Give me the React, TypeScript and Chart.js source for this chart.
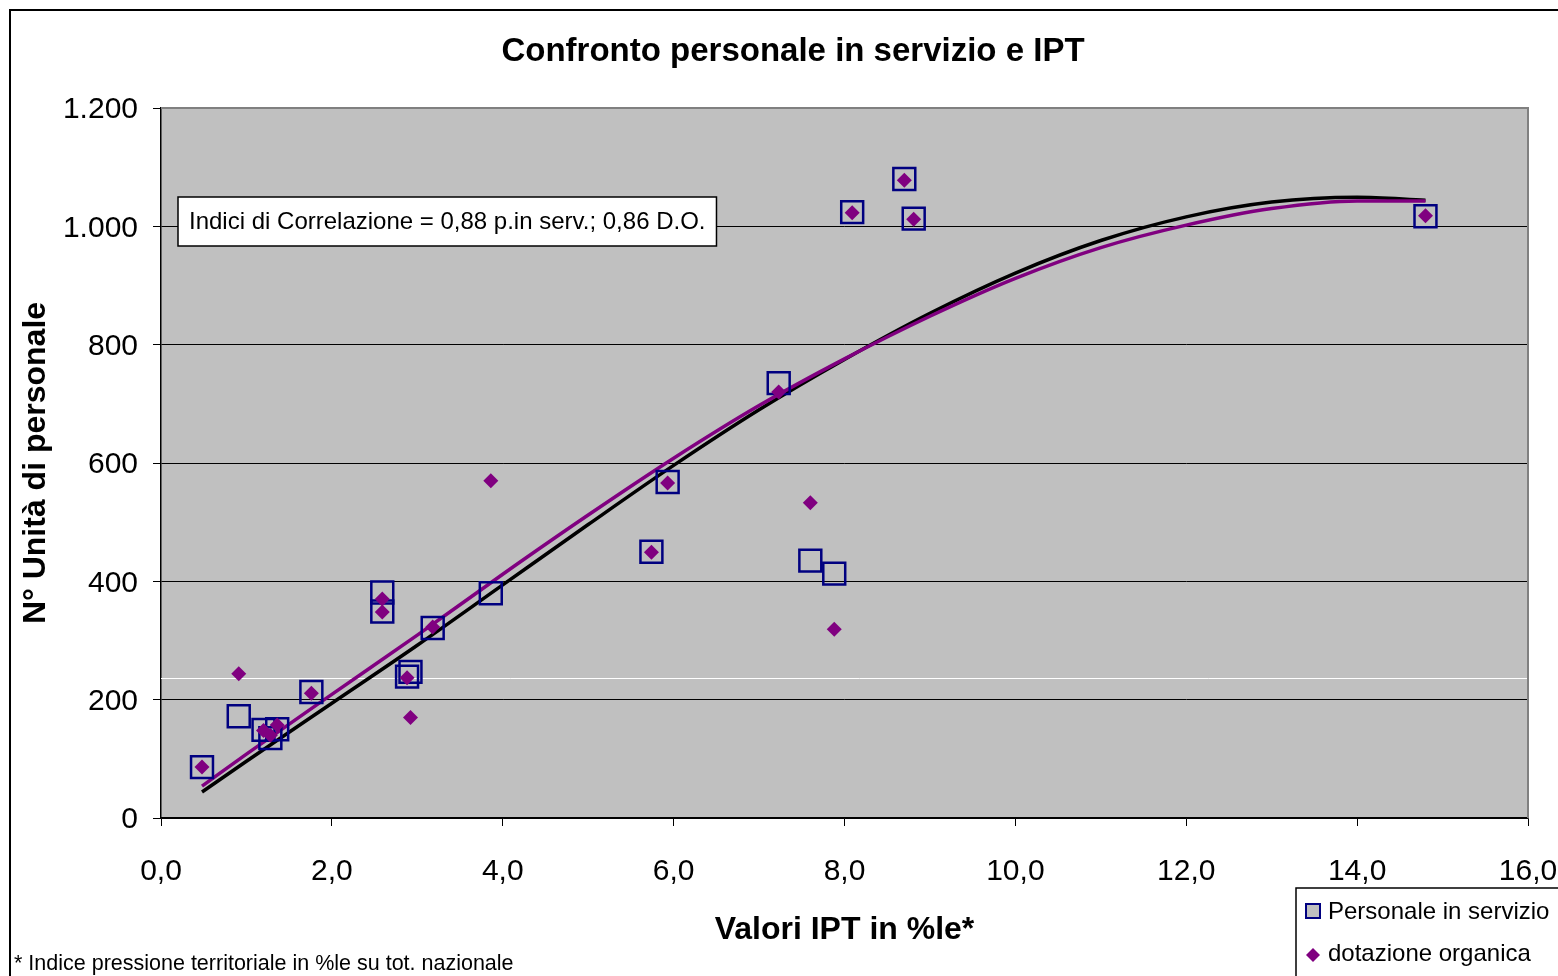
import React, { useEffect, useRef } from 'react';
import { Chart, registerables } from 'chart.js';

Chart.register(...registerables);

// ---- Data ----
const ipt = [0.48, 0.91, 1.2, 1.28, 1.36, 1.76, 2.59, 2.59, 2.88, 2.92, 3.18, 3.86, 5.74, 5.93, 7.23, 7.6, 7.88, 8.09, 8.7, 8.81, 14.8];
const personaleInServizio = [86, 172, 149, 135, 150, 213, 381, 349, 239, 247, 321, 380, 450, 568, 735, 435, 413, 1024, 1080, 1013, 1017];
const dotazioneOrganica = [86, 244, 148, 140, 157, 211, 370, 348, 237, 170, 323, 570, 449, 566, 720, 533, 319, 1023, 1078, 1012, 1018];

const trendX = [0.48, 1, 2, 3, 4, 5, 6, 7, 8, 9, 10, 11, 12, 13, 14, 14.8];
const trendPersonale = [44, 96, 194, 292, 394, 496, 596, 690, 775, 853, 921, 976, 1016, 1041, 1049, 1044];
const trendDotazione = [54, 108, 209, 309, 412, 512, 608, 697, 776, 848, 912, 964, 1002, 1030, 1043, 1043];

const xTickValues = [0, 2, 4, 6, 8, 10, 12, 14, 16];
const xTickLabels = ['0,0', '2,0', '4,0', '6,0', '8,0', '10,0', '12,0', '14,0', '16,0'];
const yTickValues = [0, 200, 400, 600, 800, 1000, 1200];
const yTickLabels = ['0', '200', '400', '600', '800', '1.000', '1.200'];

const whiteLineValue = 237;

const TITLE = 'Confronto personale in servizio e IPT';
const X_TITLE = 'Valori IPT in %le*';
const Y_TITLE = 'N° Unità di personale';
const LEGEND_LABELS = ['Personale in servizio', 'dotazione organica'];
const ANNOTATION = 'Indici di Correlazione = 0,88 p.in serv.; 0,86 D.O.';
const FOOTNOTE = '* Indice pressione territoriale in %le su tot. nazionale';

const FONT = '"Liberation Sans", Arial, Helvetica, sans-serif';
const NAVY = '#000080';
const PURPLE = '#800080';

const W = 1558;
const H = 976;

const decorPlugin = {
  id: 'decor',
  beforeDraw(chart: any) {
    const { ctx, chartArea: a, width, height } = chart;
    ctx.save();
    ctx.fillStyle = '#ffffff';
    ctx.fillRect(0, 0, width, height);
    ctx.fillStyle = '#C0C0C0';
    ctx.fillRect(a.left, a.top, a.right - a.left, a.bottom - a.top);
    // outer chart frame
    ctx.strokeStyle = '#000';
    ctx.lineWidth = 2;
    ctx.beginPath();
    ctx.moveTo(10, height + 5);
    ctx.lineTo(10, 10);
    ctx.lineTo(width + 5, 10);
    ctx.stroke();
    // chart title
    ctx.fillStyle = '#000';
    ctx.font = `bold 33px ${FONT}`;
    ctx.textAlign = 'center';
    ctx.textBaseline = 'middle';
    ctx.fillText(TITLE, 793, 52);
    ctx.restore();
  },
  beforeDatasetsDraw(chart: any) {
    const { ctx, chartArea: a, width } = chart;
    const y = chart.scales.y.getPixelForValue(whiteLineValue);
    ctx.save();
    ctx.strokeStyle = '#ffffff';
    ctx.lineWidth = 1;
    ctx.beginPath();
    ctx.moveTo(a.left, Math.round(y) + 0.5);
    ctx.lineTo(width, Math.round(y) + 0.5);
    ctx.stroke();
    // plot area border (top / right) in gray
    ctx.strokeStyle = '#808080';
    ctx.lineWidth = 2;
    ctx.beginPath();
    ctx.moveTo(a.left, a.top);
    ctx.lineTo(a.right, a.top);
    ctx.lineTo(a.right, a.bottom);
    ctx.stroke();
    ctx.restore();
  },
  afterDraw(chart: any) {
    const { ctx, chartArea: a } = chart;
    ctx.save();
    // annotation box
    const bx = a.left + 17;
    const by = a.top + 89;
    ctx.font = `24px ${FONT}`;
    const tw = ctx.measureText(ANNOTATION).width;
    const bw = tw + 22;
    const bh = 49;
    ctx.fillStyle = '#fff';
    ctx.fillRect(bx, by, bw, bh);
    ctx.strokeStyle = '#000';
    ctx.lineWidth = 1.5;
    ctx.strokeRect(bx, by, bw, bh);
    ctx.fillStyle = '#000';
    ctx.textBaseline = 'middle';
    ctx.textAlign = 'left';
    ctx.fillText(ANNOTATION, bx + 11, by + bh / 2 + 1);

    // legend box
    const lx = 1296;
    const ly = 888;
    ctx.fillStyle = '#fff';
    ctx.fillRect(lx, ly, 400, 200);
    ctx.strokeStyle = '#000';
    ctx.lineWidth = 1.5;
    ctx.strokeRect(lx, ly, 400, 200);
    // square marker
    ctx.fillStyle = '#C0C0C0';
    ctx.fillRect(lx + 10, ly + 16, 14, 14);
    ctx.strokeStyle = NAVY;
    ctx.lineWidth = 2;
    ctx.strokeRect(lx + 10, ly + 16, 14, 14);
    // diamond marker
    ctx.fillStyle = PURPLE;
    ctx.beginPath();
    const dx = lx + 17;
    const dy = ly + 67;
    ctx.moveTo(dx, dy - 7);
    ctx.lineTo(dx + 7, dy);
    ctx.lineTo(dx, dy + 7);
    ctx.lineTo(dx - 7, dy);
    ctx.closePath();
    ctx.fill();
    ctx.fillStyle = '#000';
    ctx.font = `24px ${FONT}`;
    ctx.fillText(LEGEND_LABELS[0], lx + 32, ly + 24);
    ctx.fillText(LEGEND_LABELS[1], lx + 32, ly + 66);

    // footnote
    ctx.font = `21.5px ${FONT}`;
    ctx.textBaseline = 'alphabetic';
    ctx.fillText(FOOTNOTE, 14, 970);
    ctx.restore();
  },
};

export default function App() {
  const ref = useRef<HTMLCanvasElement | null>(null);

  useEffect(() => {
    document.body.style.margin = '0';
    document.body.style.overflow = 'hidden';
    const canvas = ref.current;
    if (!canvas) return;
    const chart = new Chart(canvas, {
      type: 'scatter',
      data: {
        datasets: [
          {
            label: LEGEND_LABELS[1],
            data: ipt.map((x, i) => ({ x, y: dotazioneOrganica[i] })),
            pointStyle: 'rectRot',
            pointRadius: 7.5,
            pointBackgroundColor: PURPLE,
            pointBorderColor: PURPLE,
            pointBorderWidth: 0,
            showLine: false,
            order: 0,
          },
          {
            label: LEGEND_LABELS[0],
            data: ipt.map((x, i) => ({ x, y: personaleInServizio[i] })),
            pointStyle: 'rect',
            pointRadius: 15.5,
            pointBackgroundColor: 'rgba(0,0,0,0)',
            pointBorderColor: NAVY,
            pointBorderWidth: 2.5,
            showLine: false,
            order: 1,
          },
          {
            label: 'Tendenza dotazione organica',
            data: trendX.map((x, i) => ({ x, y: trendDotazione[i] })),
            showLine: true,
            borderColor: PURPLE,
            borderWidth: 3.5,
            pointRadius: 0,
            cubicInterpolationMode: 'monotone',
            order: 2,
          },
          {
            label: 'Tendenza personale in servizio',
            data: trendX.map((x, i) => ({ x, y: trendPersonale[i] })),
            showLine: true,
            borderColor: '#000000',
            borderWidth: 3.5,
            pointRadius: 0,
            cubicInterpolationMode: 'monotone',
            order: 3,
          },
        ],
      },
      options: {
        responsive: false,
        animation: false,
        devicePixelRatio: 1,
        layout: { padding: { left: 10, right: 30, top: 108, bottom: 0 } },
        plugins: {
          legend: { display: false },
          tooltip: { enabled: false },
          title: { display: false },
        },
        scales: {
          x: {
            type: 'linear',
            min: 0,
            max: 16,
            afterBuildTicks: (scale: any) => {
              scale.ticks = xTickValues.map((v) => ({ value: v }));
            },
            afterFit: (scale: any) => {
              scale.height = H - 818;
              scale.paddingLeft = 0;
              scale.paddingRight = 0;
            },
            ticks: {
              color: '#000',
              font: { family: FONT, size: 30, lineHeight: 1.2 },
              padding: 28,
              maxRotation: 0,
              autoSkip: false,
              callback: (v: any) => {
                const i = xTickValues.indexOf(Number(v));
                return i >= 0 ? xTickLabels[i] : '';
              },
            },
            grid: {
              drawOnChartArea: false,
              drawTicks: true,
              tickLength: 8,
              tickColor: '#000',
              tickWidth: 1,
            },
            border: { color: '#000', width: 1.5 },
            title: {
              display: true,
              text: X_TITLE,
              color: '#000',
              font: { family: FONT, size: 32, weight: 'bold', lineHeight: 1.2 },
              padding: { top: 0, bottom: 27 },
            },
          },
          y: {
            type: 'linear',
            min: 0,
            max: 1200,
            afterBuildTicks: (scale: any) => {
              scale.ticks = yTickValues.map((v) => ({ value: v }));
            },
            afterFit: (scale: any) => {
              scale.width = 151;
              scale.paddingTop = 0;
              scale.paddingBottom = 0;
            },
            ticks: {
              color: '#000',
              font: { family: FONT, size: 30, lineHeight: 1.2 },
              padding: 15,
              labelOffset: 2,
              autoSkip: false,
              callback: (v: any) => {
                const i = yTickValues.indexOf(Number(v));
                return i >= 0 ? yTickLabels[i] : '';
              },
            },
            grid: {
              color: (c: any) => (c.tick && c.tick.value === 1200 ? '#808080' : '#000'),
              lineWidth: 1,
              drawTicks: true,
              tickLength: 8,
              tickColor: '#000',
            },
            border: { color: '#000', width: 1.5 },
            title: {
              display: true,
              text: Y_TITLE,
              color: '#000',
              font: { family: FONT, size: 32, weight: 'bold', lineHeight: 1.2 },
              padding: { top: 7, bottom: 0 },
            },
          },
        },
      },
      plugins: [decorPlugin],
    } as any);
    return () => chart.destroy();
  }, []);

  return (
    <div style={{ position: 'absolute', left: 0, top: 0, width: W, height: H }}>
      <canvas ref={ref} width={W} height={H} style={{ width: W, height: H, display: 'block' }} />
    </div>
  );
}
